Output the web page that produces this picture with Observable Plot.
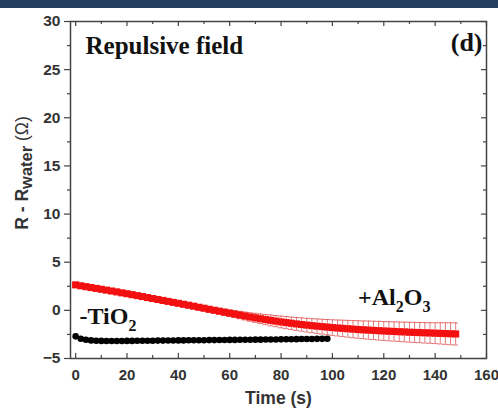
<!DOCTYPE html>
<html><head><meta charset="utf-8">
<script src="https://cdn.jsdelivr.net/npm/d3@7"></script>
<script src="https://cdn.jsdelivr.net/npm/@observablehq/plot@0.6"></script>
<style>
body{margin:0;background:#fff;}
#wrap{position:relative;width:498px;height:410px;overflow:hidden;}
#band{position:absolute;left:0;top:0;width:498px;height:8px;background:#243f5f;z-index:2;}
svg{display:block;overflow:visible;}
</style></head><body><div id="wrap"><div id="band"></div></div>
<script>
// +Al2O3 series (red squares with error bars)
const timeAl = [0,2,4,6,8,10,12,14,16,18,20,22,24,26,28,30,32,34,36,38,40,42,44,46,48,50,52,54,56,58,60,62,64,66,68,70,72,74,76,78,80,82,84,86,88,90,92,94,96,98,100,102,104,106,108,110,112,114,116,118,120,122,124,126,128,130,132,134,136,138,140,142,144,146,148];
const al = [2.65,2.55,2.46,2.37,2.28,2.19,2.10,2.01,1.92,1.82,1.73,1.63,1.53,1.43,1.33,1.23,1.13,1.03,0.93,0.83,0.73,0.63,0.53,0.43,0.32,0.22,0.11,0.01,-0.09,-0.19,-0.29,-0.39,-0.49,-0.59,-0.69,-0.78,-0.87,-0.96,-1.04,-1.12,-1.20,-1.27,-1.34,-1.41,-1.47,-1.53,-1.59,-1.64,-1.69,-1.74,-1.79,-1.83,-1.87,-1.91,-1.95,-1.99,-2.02,-2.05,-2.08,-2.11,-2.14,-2.17,-2.19,-2.22,-2.24,-2.27,-2.29,-2.31,-2.33,-2.35,-2.37,-2.39,-2.41,-2.43,-2.45];
const alErr = [0.08,0.08,0.08,0.09,0.09,0.10,0.10,0.10,0.11,0.11,0.12,0.12,0.13,0.13,0.14,0.14,0.15,0.16,0.17,0.18,0.19,0.20,0.21,0.22,0.23,0.24,0.26,0.28,0.30,0.32,0.34,0.36,0.38,0.41,0.44,0.47,0.50,0.53,0.56,0.58,0.61,0.63,0.65,0.67,0.69,0.71,0.73,0.75,0.77,0.79,0.81,0.83,0.85,0.87,0.89,0.91,0.92,0.94,0.95,0.97,0.98,0.99,1.00,1.01,1.02,1.03,1.04,1.05,1.06,1.07,1.08,1.10,1.12,1.14,1.15];
// -TiO2 series (black circles)
const timeTi = [0,2,4,6,8,10,12,14,16,18,20,22,24,26,28,30,32,34,36,38,40,42,44,46,48,50,52,54,56,58,60,62,64,66,68,70,72,74,76,78,80,82,84,86,88,90,92,94,96,98];
const ti = [-2.70,-2.95,-3.05,-3.12,-3.15,-3.17,-3.18,-3.18,-3.18,-3.18,-3.17,-3.17,-3.16,-3.16,-3.15,-3.15,-3.14,-3.14,-3.13,-3.13,-3.12,-3.12,-3.11,-3.11,-3.10,-3.10,-3.09,-3.09,-3.08,-3.08,-3.07,-3.07,-3.06,-3.05,-3.05,-3.04,-3.04,-3.03,-3.02,-3.02,-3.01,-3.00,-3.00,-2.99,-2.98,-2.98,-2.97,-2.96,-2.96,-2.95];
// ticks
const xMajor = [0,20,40,60,80,100,120,140,160];
const xMinor = [10,30,50,70,90,110,130,150];
const yMajor = [-5,0,5,10,15,20,25,30];
const yMinor = [-2.5,2.5,7.5,12.5,17.5,22.5,27.5];
// texts
const xTitle = "Time (s)";
const yTitle = "R - Rwater (Ω)";
const panelTitle = "Repulsive field";
const panelTag = "(d)";
const labels = [
  {text: "+Al2O3", t: 110, v: 0.6},
  {text: "-TiO2", t: 1.5, v: -1.4}
];

const W = 498, H = 410, MT = 21, MB = 52, ML = 70, MR = 12;
const FH = H - MT - MB, FW = W - ML - MR;
const alData = timeAl.map((t, i) => ({t, v: al[i], e: alErr[i]}));
const tiData = timeTi.map((t, i) => ({t, v: ti[i]}));
const axisColor = "#444";
const red = "#f21010";
const errColor = "#d94040";

const plot = Plot.plot({
  width: W, height: H,
  marginTop: MT, marginBottom: MB, marginLeft: ML, marginRight: MR,
  x: {domain: [-2, 160]},
  y: {domain: [-5, 30]},
  style: {fontFamily: "'Liberation Sans', Arial, sans-serif", background: "transparent", color: "#333", overflow: "visible"},
  marks: [
    // error bars
    Plot.ruleX(alData, {x: "t", y1: d => d.v - d.e, y2: d => d.v + d.e, stroke: errColor, strokeWidth: 0.7}),
    Plot.ruleY(alData, {y: d => d.v + d.e, x1: d => d.t - 1.1, x2: d => d.t + 1.1, stroke: errColor, strokeWidth: 0.7}),
    Plot.ruleY(alData, {y: d => d.v - d.e, x1: d => d.t - 1.1, x2: d => d.t + 1.1, stroke: errColor, strokeWidth: 0.7}),
    Plot.dot(alData, {x: "t", y: "v", symbol: "square", r: 4, fill: red, stroke: "none"}),
    Plot.dot(tiData, {x: "t", y: "v", r: 3.3, fill: "#000", stroke: "none"}),
    Plot.frame({stroke: axisColor, strokeWidth: 1.5}),
    // inward ticks: bottom, top, right
    Plot.tickX(xMajor, {x: d => d, insetTop: FH - 5, stroke: axisColor, strokeWidth: 1.2}),
    Plot.tickX(xMinor, {x: d => d, insetTop: FH - 3, stroke: axisColor, strokeWidth: 1.2}),
    Plot.tickX(xMajor, {x: d => d, insetBottom: FH - 5, stroke: axisColor, strokeWidth: 1.2}),
    Plot.tickX(xMinor, {x: d => d, insetBottom: FH - 3, stroke: axisColor, strokeWidth: 1.2}),
    Plot.tickY(yMajor, {y: d => d, insetLeft: FW - 5, stroke: axisColor, strokeWidth: 1.2}),
    Plot.tickY(yMinor, {y: d => d, insetLeft: FW - 3, stroke: axisColor, strokeWidth: 1.2}),
    // left axis (outward ticks)
    Plot.axisY(yMajor, {anchor: "left", tickSize: 6, tickPadding: 4, fontSize: 15.5, fontWeight: "bold", stroke: axisColor, strokeWidth: 1.2, fill: "#333", label: null}),
    Plot.axisY(yMinor, {anchor: "left", tickSize: 3, tickFormat: () => "", stroke: axisColor, strokeWidth: 1.2, label: null}),
    // bottom labels
    Plot.axisX(xMajor, {anchor: "bottom", tickSize: 0, tickPadding: 11, fontSize: 15, fontWeight: "bold", fill: "#333", label: null}),
    // axis titles
    Plot.text([xTitle], {frameAnchor: "bottom", dy: 40, textAnchor: "middle", lineAnchor: "middle", fontSize: 17.5, fontWeight: "bold", fill: "#333"}),
    Plot.text([yTitle], {frameAnchor: "left", rotate: -90, dx: -48, dy: -17, textAnchor: "middle", lineAnchor: "middle", fontSize: 17.5, fontWeight: "bold", fill: "#333"}),
    // annotations
    Plot.text([panelTitle], {frameAnchor: "top-left", dx: 15, dy: 32, textAnchor: "start", lineAnchor: "bottom", fontFamily: "'Liberation Serif', 'Times New Roman', serif", fontWeight: "bold", fontSize: 25, fill: "#111"}),
    Plot.text([panelTag], {frameAnchor: "top-right", dx: -4, dy: 29, textAnchor: "end", lineAnchor: "bottom", fontFamily: "'Liberation Serif', 'Times New Roman', serif", fontWeight: "bold", fontSize: 26, fill: "#111"}),
    Plot.text(labels, {x: "t", y: "v", text: "text", textAnchor: "start", lineAnchor: "bottom", fontFamily: "'Liberation Serif', 'Times New Roman', serif", fontWeight: "bold", fontSize: 24, fill: "#111"})
  ]
});

// subscripts
const subs = {
  "+Al2O3": [["+Al", 0], ["2", 1], ["O", 0], ["3", 1]],
  "-TiO2": [["-Ti", 0], ["O", 0], ["2", 1]],
  "R - Rwater (Ω)": [["R - R", 0], ["water", 2], [" (Ω)", 3]]
};
d3.select(plot).selectAll("text").each(function() {
  const parts = subs[this.textContent];
  if (!parts) return;
  const el = d3.select(this);
  el.text("");
  let shift = 0;
  for (const [s, kind] of parts) {
    const ts = el.append("tspan").text(s);
    let target = 0;
    if (kind === 1) { target = 7; ts.attr("font-size", 16); }
    if (kind === 2) { target = 4; ts.attr("font-size", 16.5); }
    if (kind === 3) { ts.attr("font-weight", "normal"); }
    if (target !== shift) { ts.attr("dy", target - shift); shift = target; }
  }
});

document.getElementById("wrap").appendChild(plot);
</script>
</body></html>
